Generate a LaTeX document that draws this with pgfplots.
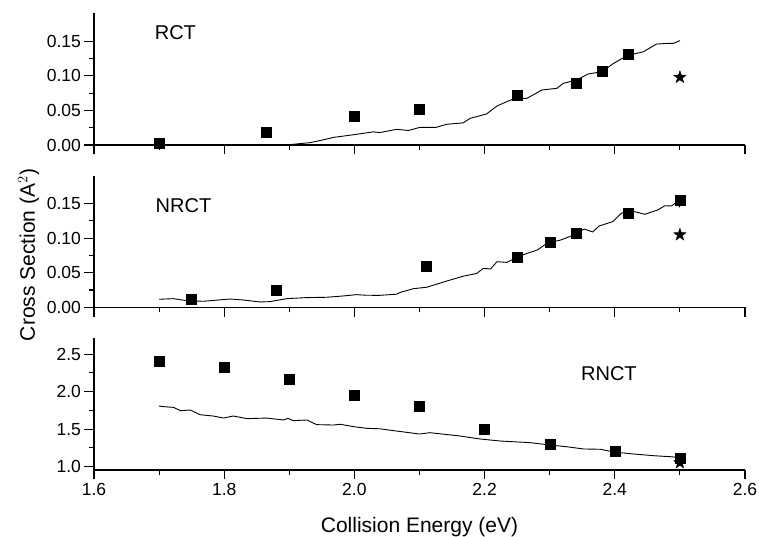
\documentclass[border=0pt]{standalone}
\usepackage{fontspec}
\setmainfont{Liberation Sans}
\usepackage{pgfplots}
\pgfplotsset{compat=1.18}

% filled five-pointed star mark
\pgfdeclareplotmark{fivestar}{%
  \pgfpathmoveto{\pgfpointpolar{90}{\pgfplotmarksize}}%
  \pgfpathlineto{\pgfpointpolar{126}{0.40\pgfplotmarksize}}%
  \pgfpathlineto{\pgfpointpolar{162}{\pgfplotmarksize}}%
  \pgfpathlineto{\pgfpointpolar{198}{0.40\pgfplotmarksize}}%
  \pgfpathlineto{\pgfpointpolar{234}{\pgfplotmarksize}}%
  \pgfpathlineto{\pgfpointpolar{270}{0.40\pgfplotmarksize}}%
  \pgfpathlineto{\pgfpointpolar{306}{\pgfplotmarksize}}%
  \pgfpathlineto{\pgfpointpolar{342}{0.40\pgfplotmarksize}}%
  \pgfpathlineto{\pgfpointpolar{18}{\pgfplotmarksize}}%
  \pgfpathlineto{\pgfpointpolar{54}{0.40\pgfplotmarksize}}%
  \pgfpathclose
  \pgfusepathqfillstroke}

\tikzset{tag/.style={font=\fontsize{20}{24}\selectfont, anchor=center}}
\pgfplotsset{
  panel/.style={
    scale only axis, width=651pt,
    xmin=1.6, xmax=2.6,
    axis x line*=bottom, axis y line*=left,
    axis line style={line width=1.3pt, -},
    tick align=outside,
    major tick length=9.5pt, minor tick length=5pt,
    every tick/.style={line width=1.1pt, black},
    xtick={1.6,1.8,2.0,2.2,2.4,2.6}, minor x tick num=1,
    minor y tick num=1,
    tick label style={font=\fontsize{17.5}{20}\selectfont},
    /pgf/number format/assume math mode=true,
    clip=false,
  },
  theory/.style={black, line width=0.9pt, no marks},
  expt/.style={only marks, mark=square*, mark size=5pt, black},
  other/.style={only marks, mark=fivestar, mark size=6.5pt, black, fill=black,
    mark options={line width=0.4pt}},
}

\begin{document}
\begin{tikzpicture}
\useasboundingbox (-94pt,-67pt) rectangle (665pt,470pt);

% ---------------- RCT ----------------
\begin{axis}[panel, at={(0,325pt)}, anchor=south west, height=132pt,
  ymin=0, ymax=0.191, ytick={0,0.05,0.10,0.15}, xticklabels={},
  yticklabel style={/pgf/number format/.cd, fixed, fixed zerofill, precision=2}]
\addplot[theory] coordinates {
 (1.70,0) (1.80,0) (1.88,0) (1.90,0.0005) (1.932,0.0034) (1.95,0.007)
 (1.968,0.011) (2.0,0.015) (2.029,0.019) (2.039,0.018) (2.065,0.0227)
 (2.083,0.021) (2.101,0.0256) (2.126,0.0256) (2.142,0.030) (2.167,0.032)
 (2.178,0.0386) (2.203,0.0449) (2.219,0.0564) (2.234,0.0627) (2.247,0.0675)
 (2.265,0.0675) (2.288,0.0796) (2.311,0.082) (2.321,0.0893) (2.341,0.094)
 (2.359,0.1027) (2.380,0.106) (2.398,0.118) (2.418,0.129) (2.444,0.135)
 (2.464,0.146) (2.480,0.147) (2.490,0.147) (2.500,0.151)};
\addplot[expt] coordinates {
 (1.70,0.0025) (1.865,0.018) (2.0,0.041) (2.10,0.052) (2.25,0.072)
 (2.34,0.090) (2.38,0.107) (2.42,0.131)};
\addplot[other] coordinates {(2.5,0.098)};
\node[tag] at (rel axis cs:0.125,0.851) {RCT};
\end{axis}

% ---------------- NRCT ----------------
\begin{axis}[panel, at={(0,162.7pt)}, anchor=south west, height=131.3pt,
  ymin=0, ymax=0.19, ytick={0,0.05,0.10,0.15}, xticklabels={},
  yticklabel style={/pgf/number format/.cd, fixed, fixed zerofill, precision=2}]
\addplot[theory] coordinates {
 (1.70,0.0116) (1.722,0.0125) (1.742,0.0096) (1.768,0.0087) (1.809,0.012)
 (1.829,0.0106) (1.855,0.0077) (1.870,0.0082) (1.896,0.0125) (1.926,0.014)
 (1.957,0.0145) (1.983,0.0164) (2.003,0.0183) (2.019,0.0174) (2.039,0.0173)
 (2.065,0.019) (2.071,0.0217) (2.091,0.027) (2.111,0.029) (2.142,0.038)
 (2.167,0.045) (2.188,0.049) (2.198,0.0564) (2.209,0.0554) (2.219,0.066)
 (2.234,0.065) (2.255,0.0747) (2.281,0.083) (2.296,0.0926) (2.317,0.0974)
 (2.337,0.1046) (2.353,0.1133) (2.366,0.109) (2.376,0.1177) (2.397,0.124)
 (2.410,0.136) (2.425,0.1398) (2.446,0.1346) (2.466,0.1408) (2.477,0.147)
 (2.487,0.1466) (2.495,0.152) (2.500,0.1447)};
\addplot[expt] coordinates {
 (1.75,0.0116) (1.88,0.025) (2.11,0.060) (2.25,0.073) (2.30,0.0935)
 (2.34,0.1075) (2.42,0.1355) (2.50,0.155)};
\addplot[other] coordinates {(2.5,0.105)};
\node[tag] at (rel axis cs:0.1375,0.775) {NRCT};
\end{axis}

% ---------------- RNCT ----------------
\begin{axis}[panel, at={(0,0)}, anchor=south west, height=131.7pt,
  ymin=0.956, ymax=2.71, ytick={1.0,1.5,2.0,2.5},
  yticklabel style={/pgf/number format/.cd, fixed, fixed zerofill, precision=1},
  xticklabel style={/pgf/number format/.cd, fixed, fixed zerofill, precision=1}]
\addplot[theory] coordinates {
 (1.70,1.808) (1.706,1.80) (1.722,1.79) (1.733,1.746) (1.748,1.755)
 (1.763,1.692) (1.783,1.675) (1.799,1.648) (1.814,1.675) (1.835,1.64)
 (1.865,1.648) (1.891,1.622) (1.898,1.644) (1.906,1.613) (1.927,1.622)
 (1.942,1.56) (1.968,1.555) (1.978,1.565) (1.999,1.533) (2.019,1.511)
 (2.039,1.505) (2.06,1.48) (2.08,1.458) (2.10,1.435) (2.116,1.453)
 (2.162,1.409) (2.193,1.369) (2.224,1.342) (2.270,1.32) (2.30,1.289)
 (2.326,1.266) (2.352,1.236) (2.378,1.232) (2.398,1.196) (2.429,1.169)
 (2.460,1.146) (2.486,1.133) (2.50,1.12)};
\addplot[other] coordinates {(2.5,1.053)};
\addplot[expt] coordinates {
 (1.7,2.41) (1.8,2.32) (1.9,2.16) (2.0,1.955) (2.1,1.805) (2.2,1.50)
 (2.3,1.30) (2.4,1.205) (2.5,1.11)};
\node[tag] at (rel axis cs:0.791,0.734) {RNCT};
\end{axis}

% shared axis titles
\node[rotate=90, anchor=base, font=\fontsize{21}{25}\selectfont] at (-59pt,215pt) {Cross Section (A$^{2}$)};
\node[anchor=base, font=\fontsize{21}{25}\selectfont] at (325.5pt,-63pt) {Collision Energy (eV)};
\end{tikzpicture}
\end{document}
